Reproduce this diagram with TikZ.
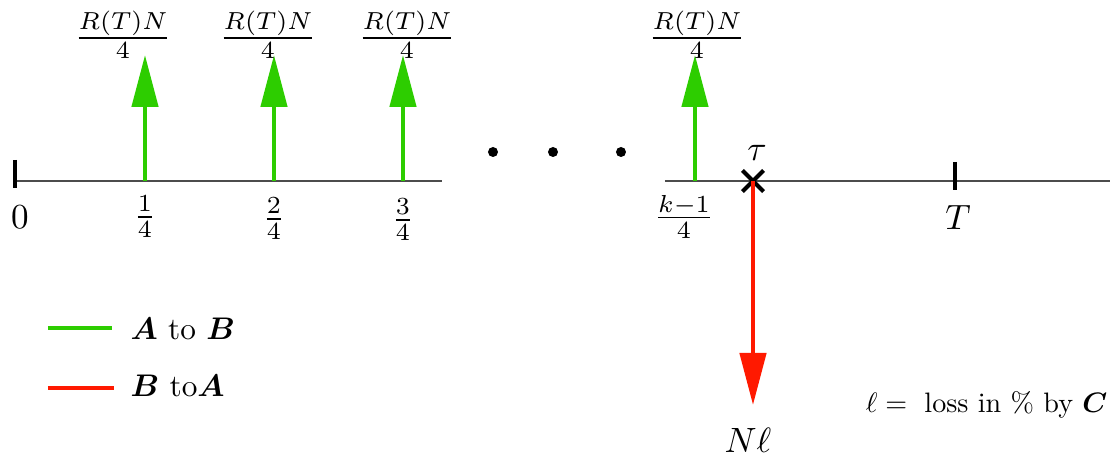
\documentclass[tikz,border=0pt]{standalone}
\usepackage{xcolor}
\usepackage{tikz}
\usepackage{amsmath,bm}
\usetikzlibrary{calc,arrows.meta,shapes.misc}

\definecolor{paygreen}{RGB}{45,205,0}
\definecolor{payred}{RGB}{255,25,0}

\tikzset{
  axis/.style = {draw=black!70, line width=0.6pt},
  tickmark/.style = {draw=black, line width=1.1pt},
  inflow/.style = {draw=paygreen, line width=1.3pt, -{Triangle[length=5.2mm,width=2.6mm,fill=paygreen]}},
  outflow/.style = {draw=payred, line width=1.3pt, -{Triangle[length=5.2mm,width=2.6mm,fill=payred]}},
  lbl/.style = {inner sep=0pt},
  small/.style = {inner sep=0pt, scale=0.89},
  dot/.style = {circle, fill=black, inner sep=0pt, minimum size=0.1cm},
}

\begin{document}
\begin{tikzpicture}
  \useasboundingbox (-0.15,1.81) rectangle (10.95,-2.81);

  % time axis, two pieces
  \coordinate (o) at (0,0);
  \coordinate (e1) at (4.27,0);
  \coordinate (s2) at (6.50,0);
  \coordinate (e2) at (10.95,0);
  \draw[axis] (o) -- (e1);
  \draw[axis] (s2) -- (e2);

  % ticks
  \coordinate (T) at (9.40,0);
  \draw[tickmark] ($ (o) + (0,0.21) $) -- ($ (o) + (0,-0.07) $);
  \draw[tickmark] ($ (T) + (0,0.19) $) -- ($ (T) + (0,-0.09) $);

  % coupon dates
  \coordinate (q1) at (1.30,0);
  \coordinate (q2) at (2.59,0);
  \coordinate (q3) at (3.88,0);
  \coordinate (qk) at (6.80,0);

  \coordinate (p1) at ($ (q1) + (0,1.26) $);
  \coordinate (p2) at ($ (q2) + (0,1.26) $);
  \coordinate (p3) at ($ (q3) + (0,1.26) $);
  \coordinate (pk) at ($ (qk) + (0,1.26) $);

  \draw[inflow] (q1) -- (p1);
  \draw[inflow] (q2) -- (p2);
  \draw[inflow] (q3) -- (p3);
  \draw[inflow] (qk) -- (pk);

  \node[lbl] (c1) at (1.08,1.46) {$\frac{R(T)N}{4}$};
  \node[lbl] (c2) at (2.53,1.46) {$\frac{R(T)N}{4}$};
  \node[lbl] (c3) at (3.92,1.46) {$\frac{R(T)N}{4}$};
  \node[lbl] (ck) at (6.82,1.46) {$\frac{R(T)N}{4}$};

  \node[lbl] (t0) at (0.05,-0.36) {$0$};
  \node[lbl] (t1) at ($ (q1) + (0,-0.36) $) {$\frac{1}{4}$};
  \node[lbl] (t2) at ($ (q2) + (0,-0.38) $) {$\frac{2}{4}$};
  \node[lbl] (t3) at ($ (q3) + (0,-0.39) $) {$\frac{3}{4}$};
  \node[lbl] (tk) at (6.69,-0.36) {$\frac{k-1}{4}$};
  \node[lbl] (tT) at ($ (T) + (0.03,-0.36) $) {$T$};

  % dots
  \node[dot] (d1) at (4.78,0.29) {};
  \node[dot] (d2) at (5.38,0.29) {};
  \node[dot] (d3) at (6.06,0.29) {};

  % default
  \node[cross out, draw=black, line width=1.2pt, minimum size=0.17cm, inner sep=0pt] (x) at (7.38,0) {};
  \node[lbl] (tau) at (7.42,0.28) {$\tau$};
  \coordinate (lossend) at (7.38,-2.24);
  \draw[outflow] (x.center) -- (lossend);
  \node[lbl] (nl) at (7.33,-2.59) {$N\ell$};

  \node[lbl, scale=0.8, anchor=east] (def) at (10.93,-2.24) {$\ell = \text{ loss in \% by } \bm{C}$};

  % legend
  \coordinate (g0) at (0.33,-1.47);
  \coordinate (g1) at (0.97,-1.47);
  \coordinate (r0) at (0.33,-2.07);
  \coordinate (r1) at (0.99,-2.07);
  \draw[draw=paygreen, line width=1.3pt] (g0) -- (g1);
  \draw[draw=payred, line width=1.3pt] (r0) -- (r1);
  \node[small, anchor=west] (lg) at (1.15,-1.48) {$\bm{A}$ to $\bm{B}$};
  \node[small, anchor=west] (lr) at (1.15,-2.05) {$\bm{B}$ to$\bm{A}$};
\end{tikzpicture}
\end{document}
